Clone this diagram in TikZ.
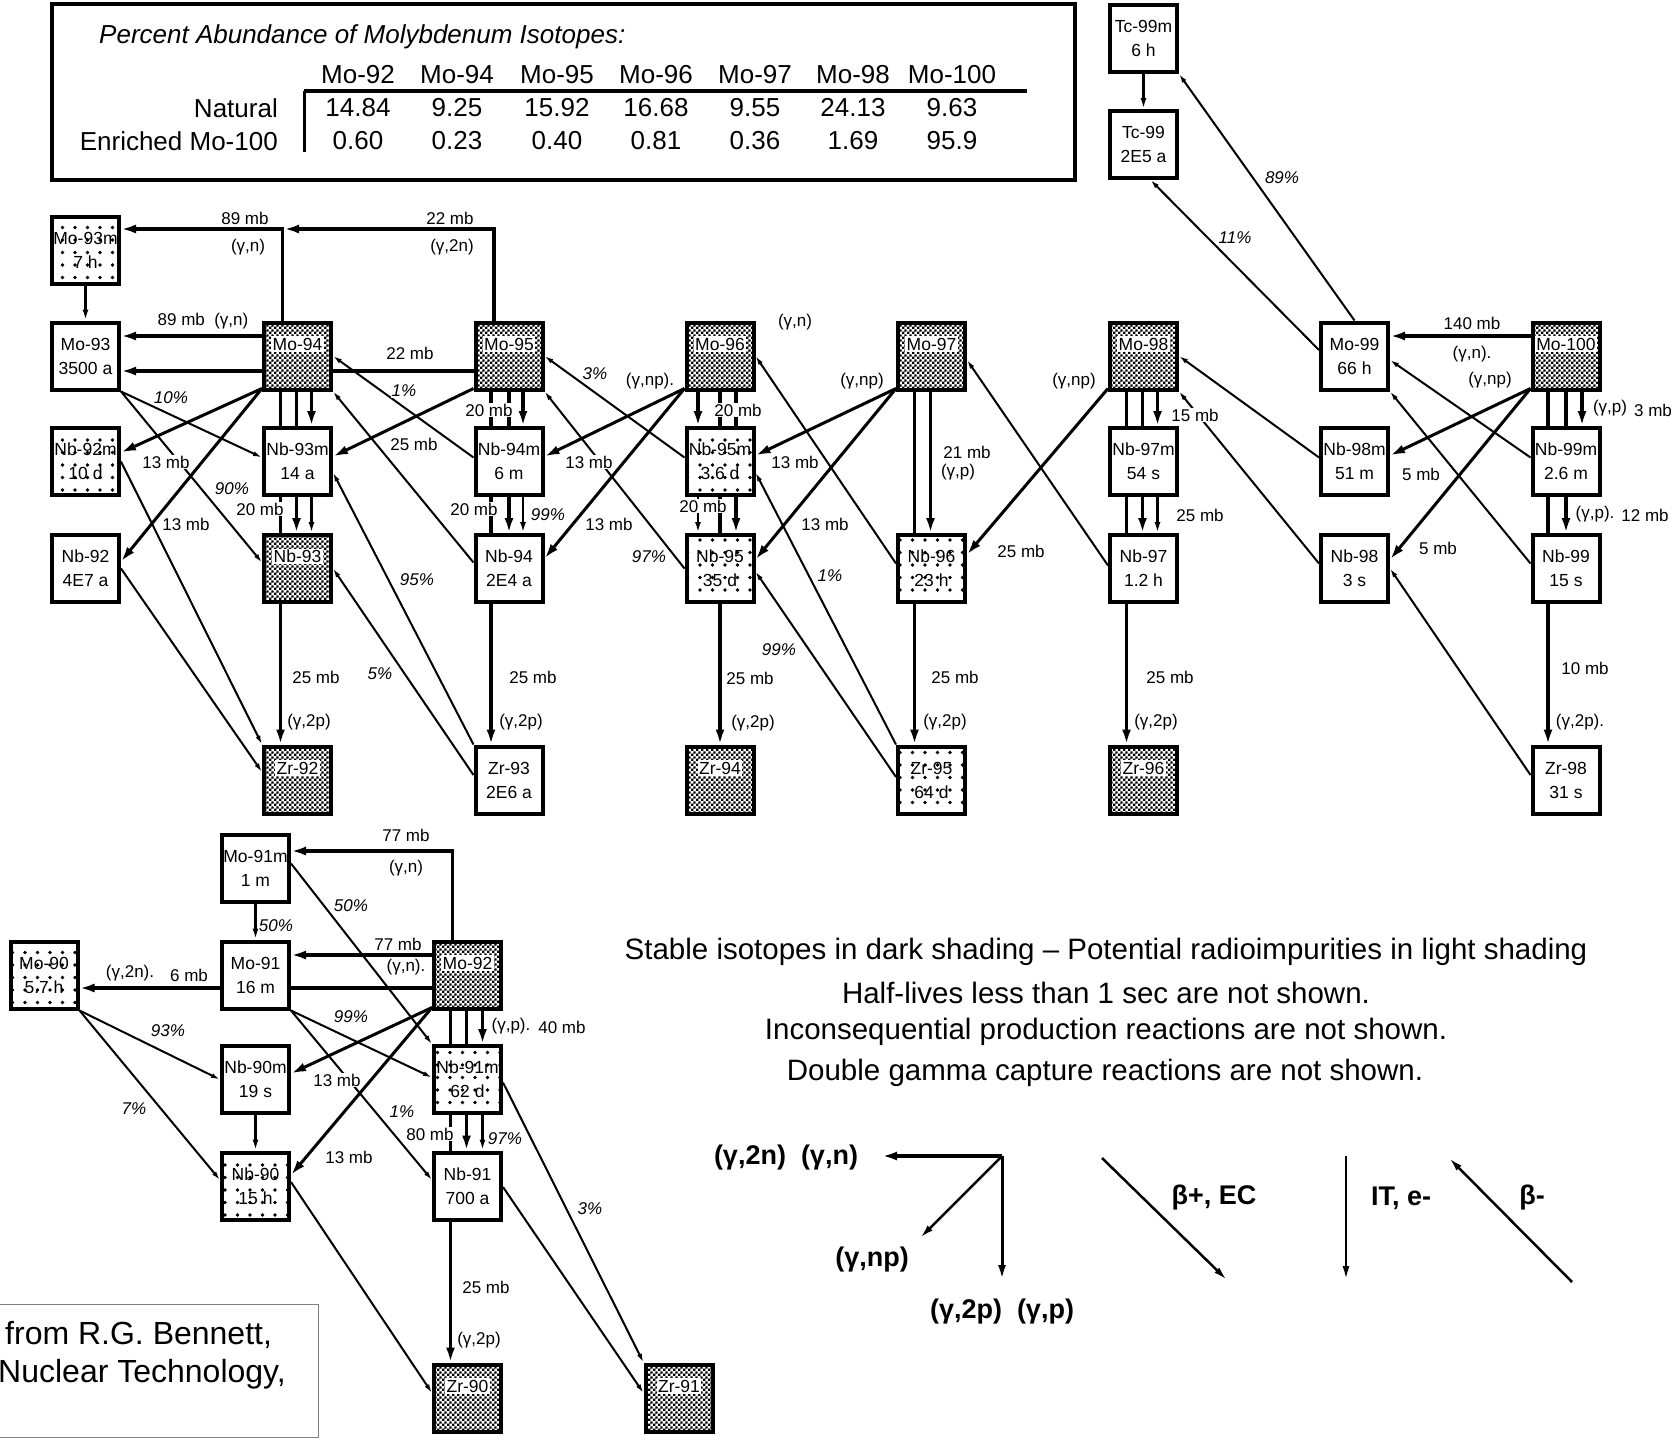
\documentclass[tikz,border=0pt]{standalone}
\usepackage{fontspec}
\setmainfont{Liberation Sans}
\usetikzlibrary{arrows.meta,patterns,patterns.meta}
\pgfdeclarelayer{bg}
\pgfsetlayers{bg,main}
\pgfdeclarepatternformonly{finecheck}{\pgfpointorigin}{\pgfqpoint{4.8pt}{4.8pt}}{\pgfqpoint{4.8pt}{4.8pt}}{%
  \pgfpathrectangle{\pgfpointorigin}{\pgfqpoint{2.4pt}{2.4pt}}%
  \pgfpathrectangle{\pgfqpoint{2.4pt}{2.4pt}}{\pgfqpoint{2.4pt}{2.4pt}}%
  \pgfusepath{fill}}
\newcommand\IsoFont{\fontsize{17.5}{24}\selectfont}
\newcommand\LabFont{\fontsize{17}{20}\selectfont}
\newcommand\TabFont{\fontsize{26}{30}\selectfont}
\newcommand\NoteFont{\fontsize{29.5}{34}\selectfont}
\newcommand\LegFont{\fontsize{27}{30}\selectfont\bfseries}
\newcommand\CitFont{\fontsize{32}{36}\selectfont}
\newcommand\IsoW[4]{\node[isow] (#1) at (#2,#3) {#4};}
\newcommand\IsoL[4]{\node[isol] (#1) at (#2,#3) {#4};}
\newcommand\IsoD[4]{\node[isod] (#1) at (#2,#3) {}; \node[dlab] (#1t) at ([yshift=12pt]#1.center) {#4};}
\newcommand\EL[4]{\node[el] (#1) at (#2,#3) {#4};}
\newcommand\PL[4]{\node[el,font=\LabFont\itshape] (#1) at (#2,#3) {#4};}
\tikzset{
  isobase/.style={draw, line width=4pt, minimum width=67pt, minimum height=67pt, inner sep=0pt, align=center, font=\IsoFont},
  isow/.style={isobase, fill=white},
  isol/.style={isobase, preaction={fill=white}, pattern={Dots[distance=12.5pt,radius=1.8pt]}},
  isod/.style={isobase, preaction={fill=white}, pattern=finecheck},
  dlab/.style={fill=white, inner sep=1.5pt, font=\IsoFont},
  el/.style={fill=white, inner sep=1pt, font=\LabFont},
  thka/.style={line width=3.6pt, -{Latex[length=15pt,width=9pt]}},
  npa/.style={line width=3pt, -{Latex[length=15pt,width=9pt]}},
  deca/.style={line width=2pt, -{Latex[length=9pt,width=5pt]}},
  ita/.style={line width=2.2pt, -{Latex[length=11pt,width=6pt]}},
  lega/.style={line width=2.5pt, -{Latex[length=14pt,width=7pt]}},
}
\begin{document}
\begin{tikzpicture}[x=1pt,y=-1pt]
\useasboundingbox (0,0) rectangle (1677,1440);
\begin{pgfonlayer}{bg}
\fill[white] (0,0) rectangle (1677,1440);
\end{pgfonlayer}

% ---------- table ----------
\draw[line width=4pt] (52,4) rectangle (1075,180);
\node[anchor=west, inner sep=0pt, font=\TabFont\itshape] (ttl) at (99,37) {Percent Abundance of Molybdenum Isotopes:};
\foreach \k/\x/\a/\b in {92/358/14.84/0.60, 94/457/9.25/0.23, 95/557/15.92/0.40, 96/656/16.68/0.81, 97/755/9.55/0.36, 98/853/24.13/1.69, 100/952/9.63/95.9} {
  \node[font=\TabFont] (hd\k) at (\x,75) {Mo-\k};
  \node[font=\TabFont] (na\k) at (\x,108) {\a};
  \node[font=\TabFont] (en\k) at (\x,141) {\b};
}
\node[anchor=east, inner sep=0pt, font=\TabFont] (natl) at (278,108) {Natural};
\node[anchor=east, inner sep=0pt, font=\TabFont] (enrl) at (278,141) {Enriched Mo-100};
\draw[line width=3.5pt] (304,91) -- (1027,91);
\draw[line width=3pt] (304,91) -- (304,152);

% ---------- upper chart nodes ----------
\IsoW{tc99m}{1143.5}{38.5}{Tc-99m\\6 h}
\IsoW{tc99}{1143.5}{144.5}{Tc-99\\2E5 a}
\IsoL{mo93m}{85.5}{250.5}{Mo-93m\\7 h}
\IsoW{mo93}{85.5}{356}{Mo-93\\3500 a}
\IsoD{mo94}{297.5}{356}{Mo-94}
\IsoD{mo95}{509}{356}{Mo-95}
\IsoD{mo96}{720}{356}{Mo-96}
\IsoD{mo97}{931.5}{356}{Mo-97}
\IsoD{mo98}{1143.5}{356}{Mo-98}
\IsoW{mo99}{1354.5}{356}{Mo-99\\66 h}
\IsoD{mo100}{1566}{356}{Mo-100}
\IsoL{nb92m}{85.5}{461.5}{Nb-92m\\10 d}
\IsoW{nb93m}{297.5}{461.5}{Nb-93m\\14 a}
\IsoW{nb94m}{509}{461.5}{Nb-94m\\6 m}
\IsoL{nb95m}{720}{461.5}{Nb-95m\\3.6 d}
\IsoW{nb97m}{1143.5}{461.5}{Nb-97m\\54 s}
\IsoW{nb98m}{1354.5}{461.5}{Nb-98m\\51 m}
\IsoW{nb99m}{1566}{461.5}{Nb-99m\\2.6 m}
\IsoW{nb92}{85.5}{568.5}{Nb-92\\4E7 a}
\IsoD{nb93}{297.5}{568.5}{Nb-93}
\IsoW{nb94}{509}{568.5}{Nb-94\\2E4 a}
\IsoL{nb95}{720}{568.5}{Nb-95\\35 d}
\IsoL{nb96}{931.5}{568.5}{Nb-96\\23 h}
\IsoW{nb97}{1143.5}{568.5}{Nb-97\\1.2 h}
\IsoW{nb98}{1354.5}{568.5}{Nb-98\\3 s}
\IsoW{nb99}{1566}{568.5}{Nb-99\\15 s}
\IsoD{zr92}{297.5}{780}{Zr-92}
\IsoW{zr93}{509}{780}{Zr-93\\2E6 a}
\IsoD{zr94}{720}{780}{Zr-94}
\IsoL{zr95}{931.5}{780}{Zr-95\\64 d}
\IsoD{zr96}{1143.5}{780}{Zr-96}
\IsoW{zr98}{1566}{780}{Zr-98\\31 s}

% ---------- lower chart nodes ----------
\IsoW{mo91m}{255.5}{868.5}{Mo-91m\\1 m}
\IsoL{mo90}{44}{975}{Mo-90\\5.7 h}
\IsoW{mo91}{255.5}{975}{Mo-91\\16 m}
\IsoD{mo92}{467.5}{975}{Mo-92}
\IsoW{nb90m}{255.5}{1079.5}{Nb-90m\\19 s}
\IsoL{nb91m}{467.5}{1079.5}{Nb-91m\\62 d}
\IsoL{nb90}{255.5}{1186}{Nb-90\\15 h}
\IsoW{nb91}{467.5}{1186}{Nb-91\\700 a}
\IsoD{zr90}{467.5}{1398}{Zr-90}
\IsoD{zr91}{679}{1398}{Zr-91}

\coordinate (j94) at (284,229);
\coordinate (lgc) at (1002,1156);
\coordinate (lgl) at (882,1156);
\coordinate (lgd) at (1002,1280);
\coordinate (lgnp) at (920,1238);
\coordinate (bpa) at (1102,1158);
\coordinate (bpb) at (1227,1280);
\coordinate (ita1) at (1346,1156);
\coordinate (ita2) at (1346,1280);
\coordinate (bma) at (1572,1282);
\coordinate (bmb) at (1449,1158);

\begin{pgfonlayer}{bg}
% (g,n) / (g,2n)
\draw[thka] ([xshift=-15pt]mo94.north) |- ([yshift=21.5pt]mo93m.east);
\draw[thka] ([xshift=-15pt]mo95.north) |- (j94);
\draw[thka] ([yshift=20pt]mo94.west) -- ([yshift=20pt]mo93.east);
\draw[thka] ([yshift=-15pt]mo95.west) -- ([yshift=-15pt]mo93.east);
\draw[thka] ([yshift=20pt]mo100.west) -- ([yshift=20pt]mo99.east);
\draw[thka] ([xshift=-15pt]mo92.north) |- ([yshift=17.5pt]mo91m.east);
\draw[thka] ([yshift=20pt]mo92.west) -- ([yshift=20pt]mo91.east);
\draw[thka] ([yshift=-13pt]mo92.west) -- ([yshift=-13pt]mo90.east);
% (g,p) / (g,2p) verticals
\draw[thka] ([xshift=-17pt]mo94.south) -- ([xshift=-17pt]zr92.north);
\draw[thka] ([xshift=-1pt]mo94.south) -- ([xshift=-1pt]nb93.north);
\draw[thka] ([xshift=14pt]mo94.south) -- ([xshift=14pt]nb93m.north);
\draw[ita] ([xshift=14pt]nb93m.south) -- ([xshift=14pt]nb93.north);
\draw[thka] ([xshift=-18pt]mo95.south) -- ([xshift=-18pt]zr93.north);
\draw[thka] ([xshift=0pt]mo95.south) -- ([xshift=0pt]nb94.north);
\draw[thka] ([xshift=14pt]mo95.south) -- ([xshift=14pt]nb94m.north);
\draw[ita] ([xshift=14pt]nb94m.south) -- ([xshift=14pt]nb94.north);
\draw[thka] ([xshift=-22pt]mo96.south) -- ([xshift=-22pt]nb95m.north);
\draw[thka] ([xshift=0pt]mo96.south) -- ([xshift=0pt]zr94.north);
\draw[thka] ([xshift=16pt]mo96.south) -- ([xshift=16pt]nb95.north);
\draw[ita] ([xshift=-22pt]nb95m.south) -- ([xshift=-22pt]nb95.north);
\draw[thka] ([xshift=-17pt]mo97.south) -- ([xshift=-17pt]zr95.north);
\draw[thka] ([xshift=-1pt]mo97.south) -- ([xshift=-1pt]nb96.north);
\draw[thka] ([xshift=-17pt]mo98.south) -- ([xshift=-17pt]zr96.north);
\draw[thka] ([xshift=-1pt]mo98.south) -- ([xshift=-1pt]nb97.north);
\draw[thka] ([xshift=14pt]mo98.south) -- ([xshift=14pt]nb97m.north);
\draw[ita] ([xshift=14pt]nb97m.south) -- ([xshift=14pt]nb97.north);
\draw[thka] ([xshift=-18pt]mo100.south) -- ([xshift=-18pt]zr98.north);
\draw[thka] ([xshift=0pt]mo100.south) -- ([xshift=0pt]nb99.north);
\draw[thka] ([xshift=16pt]mo100.south) -- ([xshift=16pt]nb99m.north);
\draw[thka] ([xshift=-17pt]mo92.south) -- ([xshift=-17pt]zr90.north);
\draw[thka] ([xshift=-1pt]mo92.south) -- ([xshift=-1pt]nb91.north);
\draw[thka] ([xshift=15pt]mo92.south) -- ([xshift=15pt]nb91m.north);
\draw[ita] ([xshift=15pt]nb91m.south) -- ([xshift=15pt]nb91.north);
% (g,np)
\draw[npa] ([yshift=3pt]mo94.south west) -- ([yshift=9pt]nb92m.east);
\draw[npa] ([yshift=3pt]mo94.south west) -- ([yshift=7pt]nb92.east);
\draw[npa] ([yshift=3pt]mo95.south west) -- ([yshift=5pt]nb93m.east);
\draw[npa] ([yshift=3pt]mo96.south west) -- ([yshift=5pt]nb94m.east);
\draw[npa] ([yshift=3pt]mo96.south west) -- ([yshift=10pt]nb94.east);
\draw[npa] ([yshift=3pt]mo97.south west) -- ([yshift=6pt]nb95m.east);
\draw[npa] ([yshift=3pt]mo97.south west) -- ([yshift=9pt]nb95.east);
\draw[npa] ([yshift=3pt]mo98.south west) -- ([yshift=14pt]nb96.east);
\draw[npa] ([yshift=3pt]mo100.south west) -- ([yshift=6pt]nb98m.east);
\draw[npa] ([yshift=3pt]mo100.south west) -- ([yshift=9pt]nb98.east);
\draw[npa] ([yshift=3pt]mo92.south west) -- ([yshift=6pt]nb90m.east);
\draw[npa] ([yshift=3pt]mo92.south west) -- ([yshift=11pt]nb90.east);
% IT
\draw[ita] (mo93m.south) -- (mo93.north);
\draw[ita] (tc99m.south) -- (tc99.north);
\draw[ita] (mo91m.south) -- (mo91.north);
\draw[ita] (nb90m.south) -- (nb90.north);
% beta+ / EC
\draw[deca] (mo93.south east) -- ([yshift=4pt]nb93m.west);
\draw[deca] (mo93.south east) -- ([yshift=6pt]nb93.west);
\draw[deca] (nb92m.east) -- (zr92.north west);
\draw[deca] (nb92.east) -- ([yshift=8pt]zr92.west);
\draw[deca] ([yshift=5pt]mo91m.east) -- (nb91m.north west);
\draw[deca] (mo91.south east) -- ([yshift=2pt]nb91m.west);
\draw[deca] (mo91.south east) -- ([yshift=6pt]nb91.west);
\draw[deca] (mo90.south east) -- (nb90m.west);
\draw[deca] (mo90.south east) -- ([yshift=6pt]nb90.west);
\draw[deca] ([yshift=4pt]nb90.east) -- ([yshift=5pt]zr90.west);
\draw[deca] ([yshift=-1pt]nb91.east) -- ([yshift=5pt]zr91.west);
\draw[deca] ([yshift=-3pt]nb91m.east) -- (zr91.north west);
% beta-
\draw[deca] (zr93.north west) -- ([yshift=-11pt]nb93m.east);
\draw[deca] ([yshift=5pt]zr93.west) -- (nb93.east);
\draw[deca] ([yshift=4pt]nb94m.west) -- (mo94.east);
\draw[deca] ([yshift=6pt]nb94.west) -- (mo94.south east);
\draw[deca] ([yshift=4pt]nb95m.west) -- (mo95.east);
\draw[deca] (nb95.west) -- (mo95.south east);
\draw[deca] ([yshift=5pt]nb96.west) -- (mo96.east);
\draw[deca] (zr95.north west) -- ([yshift=-11pt]nb95m.east);
\draw[deca] ([yshift=3pt]zr95.west) -- ([yshift=-3pt]nb95.east);
\draw[deca] ([yshift=3pt]nb97.west) -- ([yshift=-4pt]mo97.east);
\draw[deca] ([yshift=4pt]nb98m.west) -- (mo98.east);
\draw[deca] ([yshift=5pt]nb98.west) -- (mo98.south east);
\draw[deca] ([yshift=4pt]nb99m.west) -- ([yshift=-4pt]mo99.east);
\draw[deca] ([yshift=5pt]nb99.west) -- (mo99.south east);
\draw[deca] ([yshift=5pt]zr98.west) -- (nb98.east);
\draw[deca] (mo99.north) -- (tc99m.south east);
\draw[deca] ([yshift=6pt]mo99.west) -- ([xshift=7pt]tc99.south);
% legend arrows
\draw[thka] (lgc) -- (lgl);
\draw[line width=3pt, -{Latex[length=15pt,width=8pt]}] (lgc) -- (lgd);
\draw[lega] (lgc) -- (lgnp);
\draw[lega] (bpa) -- (bpb);
\draw[lega] (ita1) -- (ita2);
\draw[lega] (bma) -- (bmb);
\end{pgfonlayer}

% ---------- edge labels (upper) ----------
\EL{l1}{245}{218}{89 mb}
\EL{l2}{248}{247}{(γ,n)}
\EL{l3}{450}{218}{22 mb}
\EL{l4}{452}{247}{(γ,2n)}
\EL{l5}{203}{321}{89 mb\ \ (γ,n)}
\EL{l6}{410}{353}{22 mb}
\PL{l7}{171}{398}{10\%}
\EL{l8}{166}{462}{13 mb}
\EL{l9}{186}{524}{13 mb}
\PL{l10}{232}{489}{90\%}
\PL{l11}{404}{391}{1\%}
\EL{l12}{414}{444}{25 mb}
\EL{l13}{489}{410}{20 mb}
\EL{l14}{260}{509}{20 mb}
\EL{l15}{474}{509}{20 mb}
\PL{l16}{548}{515}{99\%}
\PL{l17}{417}{580}{95\%}
\PL{l18}{380}{674}{5\%}
\EL{l19}{316}{677}{25 mb}
\EL{l20}{309}{722}{(γ,2p)}
\EL{l21}{533}{677}{25 mb}
\EL{l22}{521}{722}{(γ,2p)}
\PL{l23}{595}{374}{3\%}
\EL{l24}{650}{381}{(γ,np).}
\EL{l25}{589}{462}{13 mb}
\EL{l26}{609}{524}{13 mb}
\PL{l27}{649}{557}{97\%}
\EL{l28}{795}{322}{(γ,n)}
\EL{l29}{738}{410}{20 mb}
\EL{l30}{703}{506}{20 mb}
\EL{l31}{795}{462}{13 mb}
\EL{l32}{825}{524}{13 mb}
\EL{l33}{862}{381}{(γ,np)}
\EL{l34}{967}{452}{21 mb}
\EL{l35}{958}{472}{(γ,p)}
\PL{l36}{830}{576}{1\%}
\PL{l37}{779}{650}{99\%}
\EL{l38}{750}{678}{25 mb}
\EL{l39}{753}{723}{(γ,2p)}
\EL{l40}{955}{677}{25 mb}
\EL{l41}{945}{722}{(γ,2p)}
\EL{l42}{1021}{551}{25 mb}
\EL{l43}{1074}{381}{(γ,np)}
\EL{l44}{1195}{415}{15 mb}
\EL{l45}{1200}{515}{25 mb}
\EL{l46}{1170}{677}{25 mb}
\EL{l47}{1156}{722}{(γ,2p)}
\PL{l48}{1282}{178}{89\%}
\PL{l49}{1235}{238}{11\%}
\EL{l50}{1472}{323}{140 mb}
\EL{l51}{1472}{354}{(γ,n).}
\EL{l52}{1490}{380}{(γ,np)}
\EL{l53}{1610}{408}{(γ,p)}
\EL{l54}{1653}{410}{3 mb}
\EL{l55}{1421}{474}{5 mb}
\EL{l56}{1438}{548}{5 mb}
\EL{l57}{1595}{514}{(γ,p).}
\EL{l58}{1645}{515}{12 mb}
\EL{l59}{1585}{668}{10 mb}
\EL{l60}{1580}{722}{(γ,2p).}

% ---------- edge labels (lower) ----------
\EL{m1}{406}{835}{77 mb}
\EL{m2}{406}{868}{(γ,n)}
\PL{m3}{351}{906}{50\%}
\PL{m4}{276}{926}{50\%}
\EL{m5}{398}{944}{77 mb}
\node[el, inner sep=0.3pt] (m6) at (406,967) {(γ,n).};
\EL{m7}{130}{973}{(γ,2n).}
\EL{m8}{189}{975}{6 mb}
\PL{m9}{168}{1031}{93\%}
\PL{m10}{351}{1017}{99\%}
\EL{m11}{511}{1026}{(γ,p).}
\EL{m12}{562}{1027}{40 mb}
\EL{m13}{337}{1080}{13 mb}
\PL{m14}{134}{1109}{7\%}
\PL{m15}{402}{1112}{1\%}
\EL{m16}{430}{1134}{80 mb}
\PL{m17}{505}{1139}{97\%}
\EL{m18}{349}{1157}{13 mb}
\PL{m19}{590}{1209}{3\%}
\EL{m20}{486}{1287}{25 mb}
\EL{m21}{479}{1340}{(γ,2p)}

% ---------- notes ----------
\node[font=\NoteFont] (n1) at (1106,952) {Stable isotopes in dark shading – Potential radioimpurities in light shading};
\node[font=\NoteFont] (n2) at (1106,993) {Half-lives less than 1 sec are not shown.};
\node[font=\NoteFont] (n3) at (1106,1032) {Inconsequential production reactions are not shown.};
\node[font=\NoteFont] (n4) at (1105,1073) {Double gamma capture reactions are not shown.};

% ---------- legend labels ----------
\node[font=\LegFont] (g1) at (786,1158) {(γ,2n)\ \ (γ,n)};
\node[font=\LegFont] (g2) at (872,1259) {(γ,np)};
\node[font=\LegFont] (g3) at (1002,1311) {(γ,2p)\ \ (γ,p)};
\node[font=\LegFont] (g4) at (1214,1198) {β+, EC};
\node[font=\LegFont] (g5) at (1401,1198) {IT, e-};
\node[font=\LegFont] (g6) at (1532,1198) {β-};

% ---------- citation ----------
\draw[gray, line width=1pt] (-5,1304) -- (318,1304) -- (318,1437) -- (-5,1437);
\node[anchor=west, inner sep=0pt, font=\CitFont] (c1) at (5,1335) {from R.G. Bennett,};
\node[anchor=east, inner sep=0pt, font=\CitFont] (c2) at (286,1374) {Nuclear Technology,};
\end{tikzpicture}
\end{document}
